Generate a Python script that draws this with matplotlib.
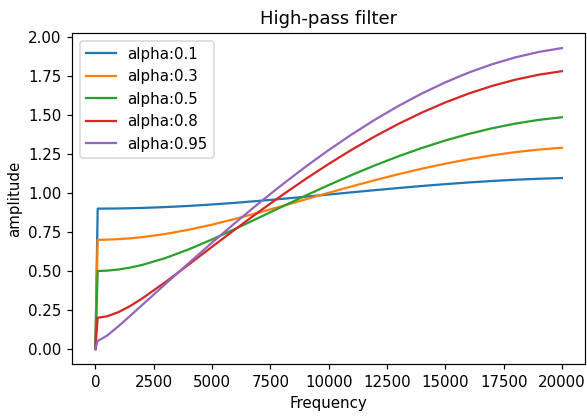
import matplotlib
matplotlib.use("Agg")
import matplotlib.pyplot as plt

freqs = [0, 100, 500, 1000, 1500, 2000, 3000, 4000, 5000, 6000, 7000, 8000, 9000,
         10000, 11000, 12000, 13000, 14000, 15000, 16000, 17000, 18000, 19000, 20000]

alphas = ["0.1", "0.3", "0.5", "0.8", "0.95"]

amp_01 = [0.0, 0.90001, 0.90028, 0.90113, 0.90252, 0.90447, 0.90994, 0.91739, 0.92663,
          0.93741, 0.94947, 0.96252, 0.97627, 0.99040, 1.00463, 1.01867, 1.03225,
          1.04511, 1.05703, 1.06780, 1.07723, 1.08518, 1.09152, 1.09614]
amp_03 = [0.0, 0.70004, 0.70109, 0.70433, 0.70968, 0.71707, 0.73755, 0.76474, 0.79744,
          0.83439, 0.87434, 0.91615, 0.95879, 1.00134, 1.04301, 1.08309, 1.12099,
          1.15619, 1.18825, 1.21678, 1.24148, 1.26208, 1.27837, 1.29019]
amp_05 = [0.0, 0.50010, 0.50253, 0.51003, 0.52225, 0.53882, 0.58307, 0.63879, 0.70228,
          0.77050, 0.84110, 0.91227, 0.98258, 1.05094, 1.11644, 1.17833, 1.23600,
          1.28891, 1.33662, 1.37874, 1.41497, 1.44502, 1.46869, 1.48582]
amp_08 = [0.0, 0.20040, 0.20990, 0.23709, 0.27641, 0.32330, 0.42889, 0.54118, 0.65506,
          0.76803, 0.87860, 0.98568, 1.08847, 1.18624, 1.27840, 1.36439, 1.44371,
          1.51594, 1.58066, 1.63753, 1.68624, 1.72654, 1.75821, 1.78108]
amp_095 = [0.0, 0.05189, 0.08555, 0.14749, 0.21384, 0.28128, 0.41646, 0.55026, 0.68159,
           0.80962, 0.93363, 1.05297, 1.16701, 1.27515, 1.37686, 1.47160, 1.55888,
           1.63828, 1.70937, 1.77180, 1.82525, 1.86946, 1.90418, 1.92926]

series = [amp_01, amp_03, amp_05, amp_08, amp_095]

dpi = 108
fig = plt.figure(figsize=(587 / dpi, 418 / dpi), dpi=dpi)
ax = fig.add_subplot(111)
fig.subplots_adjust(left=0.1227, right=0.997, top=0.921, bottom=0.129)

for a, vals in zip(alphas, series):
    ax.plot(freqs, vals, label="alpha:" + a, linewidth=1.5)

ax.set_title("High-pass filter")
ax.set_xlabel("Frequency")
ax.set_ylabel("amplitude")
ax.legend(loc="upper left")

fig.savefig("out.png", dpi=dpi)
